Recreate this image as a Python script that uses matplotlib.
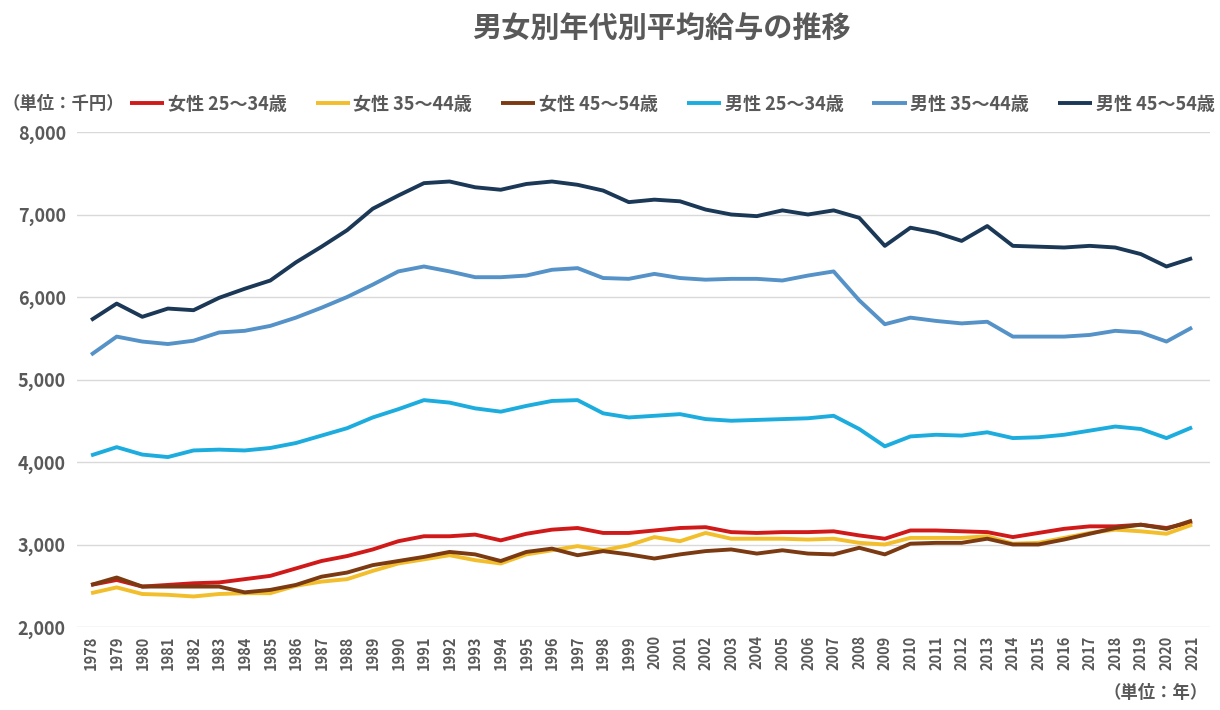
import matplotlib
matplotlib.use("Agg")
import matplotlib.pyplot as plt
from matplotlib.ticker import FuncFormatter

plt.rcParams['font.family'] = ['Noto Sans CJK JP', 'DejaVu Sans']

# 年
years = list(range(1978, 2022))

# 平均給与（千円）
f25 = [2510, 2570, 2490, 2510, 2530, 2540, 2580, 2620, 2710, 2800, 2860, 2940, 3040, 3100, 3100,
       3120, 3050, 3130, 3180, 3200, 3140, 3140, 3170, 3200, 3210, 3150, 3140, 3150, 3150, 3160,
       3110, 3070, 3170, 3170, 3160, 3150, 3090, 3140, 3190, 3220, 3220, 3240, 3200, 3270]
f35 = [2410, 2480, 2400, 2390, 2370, 2400, 2410, 2410, 2500, 2550, 2580, 2680, 2770, 2820, 2870,
       2810, 2770, 2880, 2930, 2980, 2930, 2990, 3090, 3040, 3140, 3070, 3070, 3070, 3060, 3070,
       3020, 3000, 3080, 3080, 3080, 3100, 3010, 3020, 3080, 3140, 3180, 3160, 3130, 3240]
f45 = [2510, 2600, 2490, 2490, 2490, 2490, 2420, 2450, 2510, 2610, 2660, 2750, 2800, 2850, 2910,
       2880, 2800, 2910, 2950, 2870, 2920, 2880, 2830, 2880, 2920, 2940, 2890, 2930, 2890, 2880,
       2960, 2880, 3010, 3020, 3020, 3070, 3000, 3000, 3060, 3130, 3200, 3240, 3190, 3290]
m25 = [4080, 4180, 4090, 4060, 4140, 4150, 4140, 4170, 4230, 4320, 4410, 4540, 4640, 4750, 4720,
       4650, 4610, 4680, 4740, 4750, 4590, 4540, 4560, 4580, 4520, 4500, 4510, 4520, 4530, 4560,
       4400, 4190, 4310, 4330, 4320, 4360, 4290, 4300, 4330, 4380, 4430, 4400, 4290, 4420]
m35 = [5300, 5520, 5460, 5430, 5470, 5570, 5590, 5650, 5750, 5870, 6000, 6150, 6310, 6370, 6310,
       6240, 6240, 6260, 6330, 6350, 6230, 6220, 6280, 6230, 6210, 6220, 6220, 6200, 6260, 6310,
       5960, 5670, 5750, 5710, 5680, 5700, 5520, 5520, 5520, 5540, 5590, 5570, 5460, 5630]
m45 = [5720, 5920, 5760, 5860, 5840, 5990, 6100, 6200, 6420, 6610, 6810, 7070, 7230, 7380, 7400,
       7330, 7300, 7370, 7400, 7360, 7290, 7150, 7180, 7160, 7060, 7000, 6980, 7050, 7000, 7050,
       6960, 6620, 6840, 6780, 6680, 6860, 6620, 6610, 6600, 6620, 6600, 6520, 6370, 6470]

labels = ['女性 25～34歳', '女性 35～44歳', '女性 45～54歳',
          '男性 25～34歳', '男性 35～44歳', '男性 45～54歳']
colors = ['#D01A1A', '#F2BE2C', '#7B3A12', '#1CADDE', '#5592C8', '#1B3857']
series = [f25, f35, f45, m25, m35, m45]

gray = '#595959'

fig = plt.figure(figsize=(12.2, 7.1), dpi=100)
ax = fig.add_axes([77 / 1220, 1 - 627 / 710, (1210 - 77) / 1220, (627 - 132) / 710])

for s, c, lab in zip(series, colors, labels):
    ax.plot(years, s, color=c, lw=2.8, label=lab, solid_capstyle='butt')

ax.set_ylim(2000, 8000)
ax.set_yticks(range(2000, 8001, 1000))
ax.yaxis.set_major_formatter(FuncFormatter(lambda v, p: f'{int(v):,}'))
ax.set_xlim(1977.45, 2021.7)
ax.set_xticks(years)
ax.set_xticklabels([str(y) for y in years], rotation=90)
ax.grid(axis='y', color='#D9D9D9', lw=1)
ax.set_axisbelow(True)
for sp in ax.spines.values():
    sp.set_visible(False)
ax.tick_params(length=0)
ax.tick_params(axis='y', labelsize=13, labelcolor=gray, pad=8)
ax.tick_params(axis='x', labelsize=10.5, labelcolor=gray, pad=6)
for t in ax.get_xticklabels() + ax.get_yticklabels():
    t.set_fontweight('bold')

fig.text(661 / 1220, 1 - 28 / 710, '男女別年代別平均給与の推移', ha='center', va='center',
         fontsize=21, fontweight='bold', color=gray)
fig.text(2 / 1220, 1 - 104 / 710, '（単位：千円）', ha='left', va='center',
         fontsize=12.5, fontweight='bold', color=gray)
fig.text(1208 / 1220, 1 - 693 / 710, '（単位：年）', ha='right', va='center',
         fontsize=12.5, fontweight='bold', color=gray)

leg = fig.legend(loc='center left', bbox_to_anchor=(130 / 1220, 1 - 104 / 710), ncol=6,
                 frameon=False, handlelength=1.9, handletextpad=0.2, columnspacing=1.6,
                 borderpad=0, borderaxespad=0,
                 prop={'size': 13, 'weight': 'bold'})
for t in leg.get_texts():
    t.set_color(gray)

fig.savefig('out.png', dpi=100)
